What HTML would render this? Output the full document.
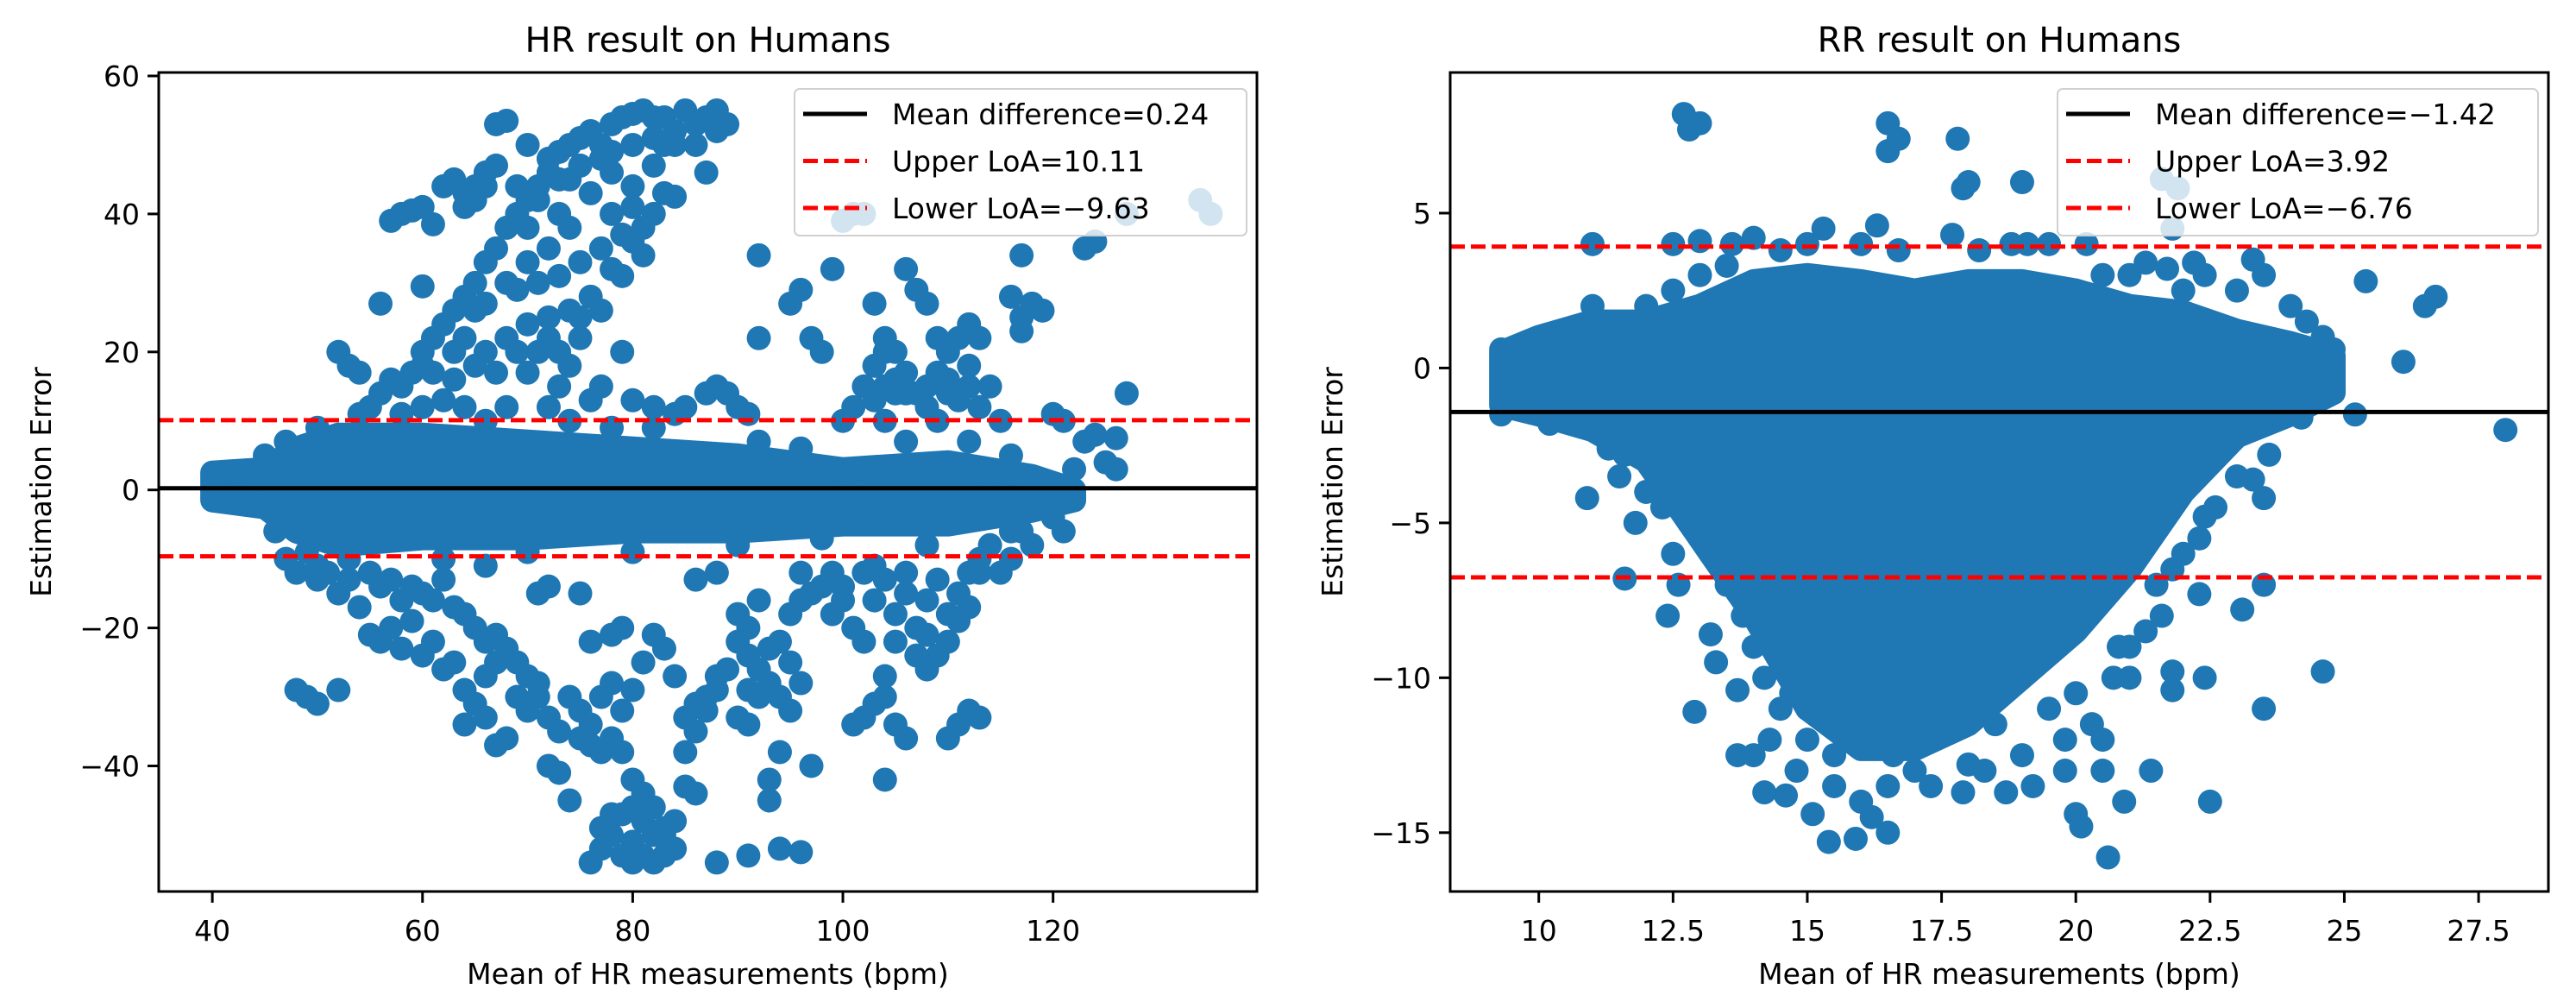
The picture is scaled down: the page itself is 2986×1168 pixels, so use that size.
<!DOCTYPE html>
<html><head><meta charset="utf-8"><style>
html,body{margin:0;padding:0;background:#fff}
svg{display:block}
text{font-family:"DejaVu Sans","Liberation Sans",sans-serif;fill:#000}
</style></head><body>
<svg id="fig" width="2986" height="1168" viewBox="0 0 2986 1168" xmlns="http://www.w3.org/2000/svg"></svg>
<script>
// ---------- HR chart data ----------
const hrXTicks = [40, 60, 80, 100, 120];
const hrYTicks = [-40, -20, 0, 20, 40, 60];
const hrMean = 0.24, hrUpper = 10.11, hrLower = -9.63;
const hrCoreX = [40, 45, 48, 52, 60, 70, 80, 90, 100, 110, 118, 122];
const hrCoreTop = [2.5, 3, 6, 8, 8, 7, 6, 5, 3, 4, 2, 0];
const hrCoreBot = [-1.5, -2.5, -6, -8, -7, -7, -6, -6, -5, -5, -3, -1.5];
const hrPoints = [[57,39],[58,40],[59,40.5],[60,41],[61,38.5],[62,44],[63,45],[64,43],[65,42],[66,46],[67,47],[67,53],[68,53.5],[69,44],[70,50],[70,38],[71,42],[72,48],[73,49],[74,50],[75,51],[76,52],[77,50],[78,53],[79,54],[80,54.5],[81,55],[82,54],[83,54],[84,52],[85,55],[86,53],[87,54],[88,55],[89,53],[84,42.5],[87,46],[80,44],[82,47],[78,46],[76,43],[74,45],[70,33],[71,30],[72,35],[73,40],[74,38],[75,33],[76,28],[77,26],[78,32],[79,31],[80,36],[81,34],[82,40],[79,37],[80,41],[75,22],[72,25],[70,24],[68,30],[69,29],[66,27],[65,26],[64,22],[63,20],[60,18],[61,17],[58,15],[56,27],[60,29.5],[52,20],[53,18],[54,17],[62,13],[67,17],[70,17],[71,20],[73,15],[74,18],[76,13],[79,20],[78,9],[82,12],[84,11],[88,15],[89,14],[90,12],[91,11],
[92,34],[92,22],[95,27],[96,29],[97,22],[98,20],[99,32],[101,40],[102,40],[103,27],[104,22],[105,20],[106,32],[107,29],[108,27],[109,22],[104,15],[105,14],[106,17],[107,14],[108,12],[110,20],[111,22],[112,24],[113,22],[114,15],[110,16],[112,18],[113,12],[116,28],[117,25],[118,27],[119,26],[117,34],[123,35],[124,36],[117,23],[120,11],[121,10],[123,7],[124,8],[126,7.5],[126,3],[127,14],[122,3],[115,10],[125,4],[100,39],[127,40],[134,42],[135,40],
[55,12],[56,14],[57,16],[59,17],[60,20],[61,22],[62,24],[63,26],[64,28],[65,30],[66,33],[67,35],[68,38],[69,40],[70,42],[71,44],[72,46],[73,45],[75,47],[77,48],[78,49],[80,50],[82,51],[83,50],[84,50],[66,44],[65,44],[64,41],[73,31],[74,26],[75,25],[77,35],[78,40],[81,38],[83,43],[86,50],[88,52],[72,22],[73,20],[68,22],[69,20],[66,20],[65,18],[63,16],[77,15],[80,13],[85,12],[87,14],[60,12],[64,12],[68,12],[72,12],[102,15],[103,18],[104,20],[105,16],[106,14],[103,13],[108,15],[109,17],[110,14],[111,13],[112,15],[100,10],[101,12],[109,10],[104,10],
[48,-29],[49,-30],[50,-31],[52,-29],[47,-10],[48,-12],[50,-13],[52,-15],[54,-17],[55,-21],[56,-22],[57,-20],[58,-23],[59,-19],[60,-24],[61,-22],[62,-26],[63,-25],[64,-29],[65,-31],[66,-27],[67,-25],[64,-34],[66,-33],[67,-37],[68,-36],[69,-30],[70,-32],[71,-28],[72,-40],[73,-41],[74,-45],[75,-36],[76,-37],[77,-30],[78,-28],[79,-32],[80,-29],[81,-25],[82,-21],[83,-23],[84,-27],[76,-22],[78,-21],[79,-20],[80,-42],[81,-44],[82,-46],[83,-49],[84,-48],[85,-43],[86,-44],[85,-38],[86,-35],[87,-32],[88,-29],[76,-54],[77,-52],[78,-50],[79,-53],[80,-54],[81,-53],[82,-54],[83,-53],[84,-52],[77,-49],[78,-47],[88,-54],[91,-53],[94,-52],[96,-52.5],[93,-45],[93,-42],[94,-38],[97,-40],[90,-33],[91,-29],[92,-26],[93,-23],[94,-22],[95,-25],[96,-28],[90,-18],[91,-20],[92,-16],[95,-18],[96,-16],[98,-14],[99,-12],[100,-14],[101,-20],[102,-22],[103,-16],[105,-18],[107,-20],[108,-21],[110,-22],[101,-34],[102,-33],[103,-31],[104,-30],[105,-34],[106,-36],[104,-42],[110,-36],[111,-34],[112,-32],[113,-33],[109,-24],[111,-19],[112,-17],[88,-12],[86,-13],[75,-15],[72,-14],[71,-15],[62,-13],[66,-11],[56,-14],[58,-16],[103,-11],[106,-12],[109,-13],[113,-12],[116,-10],[118,-8],[120,-4],[121,-6],[117,-6],[114,-8],
[50,-11],[51,-12],[53,-13],[55,-12],[57,-13],[59,-14],[60,-15],[61,-16],[63,-17],[64,-18],[65,-20],[66,-22],[67,-21],[68,-23],[69,-25],[70,-27],[71,-30],[72,-33],[73,-35],[74,-30],[75,-32],[76,-34],[77,-38],[78,-36],[79,-38],[80,-46],[81,-48],[79,-47],[82,-50],[83,-50],[80,-51],[85,-33],[86,-31],[87,-30],[88,-27],[89,-26],[90,-22],[91,-24],[93,-28],[94,-30],[95,-32],[92,-30],[91,-34],[96,-12],[97,-15],[99,-18],[100,-16],[102,-12],[104,-13],[106,-15],[108,-16],[110,-18],[111,-15],[112,-12],[113,-10],[115,-12],[107,-24],[108,-26],[105,-22],[104,-27],
[45,5],[47,7],[50,9],[54,11],[58,11],[66,10],[74,10],[82,9],[92,7],[96,6],[106,7],[112,7],[116,5],[46,-6],[49,-9],[53,-10],[62,-10],[70,-9],[80,-9],[90,-8],[98,-7],[108,-8],[116,-6]];

// ---------- RR chart data ----------
const rrXTicks = [10, 12.5, 15, 17.5, 20, 22.5, 25, 27.5];
const rrYTicks = [-15, -10, -5, 0, 5];
const rrMean = -1.42, rrUpper = 3.92, rrLower = -6.76;
const rrCoreX = [9.3, 10, 11, 12, 13, 14, 15, 16, 17, 18, 19, 20, 21, 22, 23, 24, 24.8];
const rrCoreTop = [0.5, 1, 1.5, 1.5, 2, 2.8, 3, 2.8, 2.5, 2.8, 2.8, 2.5, 2, 1.8, 1.2, 0.8, 0.4];
const rrCoreBot = [-1.2, -1.5, -2, -3, -5.5, -8, -11, -12.3, -12.3, -11.5, -10, -8.5, -6.5, -4, -2.2, -1.5, -0.8];
const rrPoints = [[12.7,8.2],[12.8,7.7],[13,7.9],[16.5,7.9],[16.5,7],[16.7,7.4],[17.8,7.4],[17.9,5.8],[18,6],[19,6],[21.6,6.1],[21.9,5.8],[21.8,4.5],[11,4],[12.5,4],[13,4.1],[15.3,4.5],[16.3,4.6],[17.7,4.3],[19.1,4],[20.2,4],[25.4,2.8],[26.5,2],[26.7,2.3],[26.1,0.2],[28,-2],[25.2,-1.5],[24.6,-9.8],[23.5,-11],[22.4,-10],[22.5,-14],[21.4,-13],[20.9,-14],[20.6,-15.8],[20,-14.4],[20.1,-14.8],[19.2,-13.5],[18.7,-13.7],[17.9,-13.7],[17.3,-13.5],[16.5,-15],[16.2,-14.5],[15.9,-15.2],[15.4,-15.3],[15.1,-14.4],[14.6,-13.8],[14.2,-13.7],[13.7,-12.5],[12.9,-11.1],[12.4,-8],[11.6,-6.8],[10.9,-4.2],[11.8,-5],[12.5,-6],[13.2,-8.6],[13.7,-10.4],[14.3,-12],[23.1,-7.8],[23.5,-7],[22.3,-7.3],[22.4,-4.8],[23.5,-4.2],[23.3,-3.6],[23.6,-2.8],[22.9,-2.3],[24.2,-1.6],[24.7,-0.5],[24.8,0.6],[23.3,3.5],[23.5,3],[22.4,3],[21.3,3.4],[21.7,3.2],[22.2,3.4],[24,2],[9.3,0.6],[9.5,0],[9.8,-0.5],[9.3,-1.5],[10.2,-1.8],[10.6,-1.6],[11.1,-2],[11.3,-2.6],[11.6,-2.8],[19.8,-12],[21,-10],[21.8,-9.8],[21.8,-10.4],[16.6,-12.5],[15,-12],[18.5,-11.5],[14.5,-11],[19.5,-11],[13.3,-9.5],[20.8,-9],[12.6,-7],[21.6,-8],[15.5,-13.5],[17,-13],[18,-12.8],[14,-12.5],
[11.5,-3.5],[12,-4],[12.3,-4.5],[12.8,-5],[13.2,-6],[13.5,-7],[13.8,-8],[14,-9],[14.2,-10],[14.5,-9.5],[14.7,-10.5],[15,-11],[19.5,-9],[20,-10.5],[20.3,-11.5],[20.5,-12],[20.7,-10],[21,-9],[21.3,-8.5],[21.5,-7],[21.8,-6.5],[22,-6],[22.3,-5.5],[22.6,-4.5],[23,-3.5],[20.5,-13],[19.8,-13],[19,-12.5],[18.3,-13],[16.5,-13.5],[16,-14],[15.5,-12.5],[14.8,-13],[13.6,4],[14,4.2],[14.5,3.8],[15,4],[16,4],[16.7,3.8],[18.2,3.8],[18.8,4],[19.5,4],[20.5,3],[21,3],[22,2.5],[23,2.5],[24.3,1.5],[24.6,1],[10.5,1.2],[11,2],[12,2],[12.5,2.5],[13,3],[13.5,3.3]];

const NS = 'http://www.w3.org/2000/svg';
const svg = document.getElementById('fig');
const BLUE = '#1f77b4';
function mk(tag, attrs, parent) {
  const e = document.createElementNS(NS, tag);
  for (const k in attrs) e.setAttribute(k, attrs[k]);
  (parent || svg).appendChild(e);
  return e;
}

function drawChart(cfg) {
  const g = mk('g', {});
  
  
  const L = cfg.left, R = cfg.right, T = 84, B = 1033;
  const sx = v => L + (v - cfg.xmin) / (cfg.xmax - cfg.xmin) * (R - L);
  const sy = v => B - (v - cfg.ymin) / (cfg.ymax - cfg.ymin) * (B - T);
  const clipId = cfg.name + '-clip';
  const defs = mk('defs', {}, g);
  const cp = mk('clipPath', {id: clipId}, defs);
  mk('rect', {x: L, y: T, width: R - L, height: B - T}, cp);
  const plot = mk('g', {'clip-path': 'url(#' + clipId + ')'}, g);
  
  
  let d = '';
  cfg.coreX.forEach((x, i) => { d += (i ? 'L' : 'M') + sx(x) + ',' + sy(cfg.coreTop[i]); });
  for (let i = cfg.coreX.length - 1; i >= 0; i--) d += 'L' + sx(cfg.coreX[i]) + ',' + sy(cfg.coreBot[i]);
  d += 'Z';
  const core = mk('path', {d: d, fill: BLUE, stroke: BLUE, 'stroke-width': 28, 'stroke-linejoin': 'round'}, plot);
  
  
  cfg.points.forEach(p => {
    const c = mk('circle', {cx: sx(p[0]), cy: sy(p[1]), r: 14, fill: BLUE}, plot);
    
    
  });
  const ml = mk('line', {x1: L, x2: R, y1: sy(cfg.mean), y2: sy(cfg.mean), stroke: '#000', 'stroke-width': 5}, plot);
  
  
  [[cfg.upper, 'upper-loa-line'], [cfg.lower, 'lower-loa-line']].forEach(a => {
    const l = mk('line', {x1: L, x2: R, y1: sy(a[0]), y2: sy(a[0]), stroke: '#ff0000', 'stroke-width': 5, 'stroke-dasharray': '17,7'}, plot);
    
    
  });
  const fr = mk('rect', {x: L, y: T, width: R - L, height: B - T, fill: 'none', stroke: '#000', 'stroke-width': 3}, g);
  
  
  cfg.xTicks.forEach(v => {
    mk('line', {x1: sx(v), x2: sx(v), y1: B, y2: B + 13, stroke: '#000', 'stroke-width': 3}, g);
    const t = mk('text', {x: sx(v), y: B + 57, 'text-anchor': 'middle', 'font-size': 33}, g);
    t.textContent = String(v);
    
    
  });
  cfg.yTicks.forEach(v => {
    mk('line', {x1: L - 13, x2: L, y1: sy(v), y2: sy(v), stroke: '#000', 'stroke-width': 3}, g);
    const t = mk('text', {x: L - 22, y: sy(v) + 12, 'text-anchor': 'end', 'font-size': 33}, g);
    t.textContent = String(v).replace('-', '\u2212');
    
    
  });
  const cx = (L + R) / 2;
  const ti = mk('text', {x: cx, y: 60, 'text-anchor': 'middle', 'font-size': 40}, g);
  ti.textContent = cfg.title;
  
  
  const xl = mk('text', {x: cx, y: 1140, 'text-anchor': 'middle', 'font-size': 33}, g);
  xl.textContent = 'Mean of HR measurements (bpm)';
  
  
  const yl = mk('text', {x: 0, y: 0, 'text-anchor': 'middle', 'font-size': 33, transform: 'translate(' + (cfg.left - 125) + ',' + ((T + B) / 2) + ') rotate(-90)'}, g);
  yl.textContent = 'Estimation Error';
  
  
  const lg = mk('g', {}, g);
  
  
  mk('rect', {x: cfg.legX, y: 103, width: R - 12 - cfg.legX, height: 170, rx: 6, fill: '#fff', 'fill-opacity': 0.8, stroke: '#d0d0d0', 'stroke-width': 2}, lg);
  const entries = [['Mean difference=' + cfg.meanLabel, '#000', null], ['Upper LoA=' + cfg.upperLabel, '#ff0000', '17,7'], ['Lower LoA=' + cfg.lowerLabel, '#ff0000', '17,7']];
  entries.forEach((e, i) => {
    const yy = 132 + i * 54.5;
    const ln = mk('line', {x1: cfg.legX + 10, x2: cfg.legX + 84, y1: yy, y2: yy, stroke: e[1], 'stroke-width': 5}, lg);
    if (e[2]) ln.setAttribute('stroke-dasharray', e[2]);
    const t = mk('text', {x: cfg.legX + 113, y: yy + 12, 'font-size': 33}, lg);
    t.textContent = e[0];
    
    
  });
}

drawChart({name: 'hr-chart', title: 'HR result on Humans', left: 184, right: 1457,
  xmin: 34.9, xmax: 139.4, ymin: -58.2, ymax: 60.5, xTicks: hrXTicks, yTicks: hrYTicks,
  coreX: hrCoreX, coreTop: hrCoreTop, coreBot: hrCoreBot, points: hrPoints,
  mean: hrMean, upper: hrUpper, lower: hrLower, meanLabel: '0.24', upperLabel: '10.11', lowerLabel: '\u22129.63', legX: 921});
drawChart({name: 'rr-chart', title: 'RR result on Humans', left: 1681, right: 2954,
  xmin: 8.35, xmax: 28.8, ymin: -16.9, ymax: 9.54, xTicks: rrXTicks, yTicks: rrYTicks,
  coreX: rrCoreX, coreTop: rrCoreTop, coreBot: rrCoreBot, points: rrPoints,
  mean: rrMean, upper: rrUpper, lower: rrLower, meanLabel: '\u22121.42', upperLabel: '3.92', lowerLabel: '\u22126.76', legX: 2385});
</script>
</body></html>
